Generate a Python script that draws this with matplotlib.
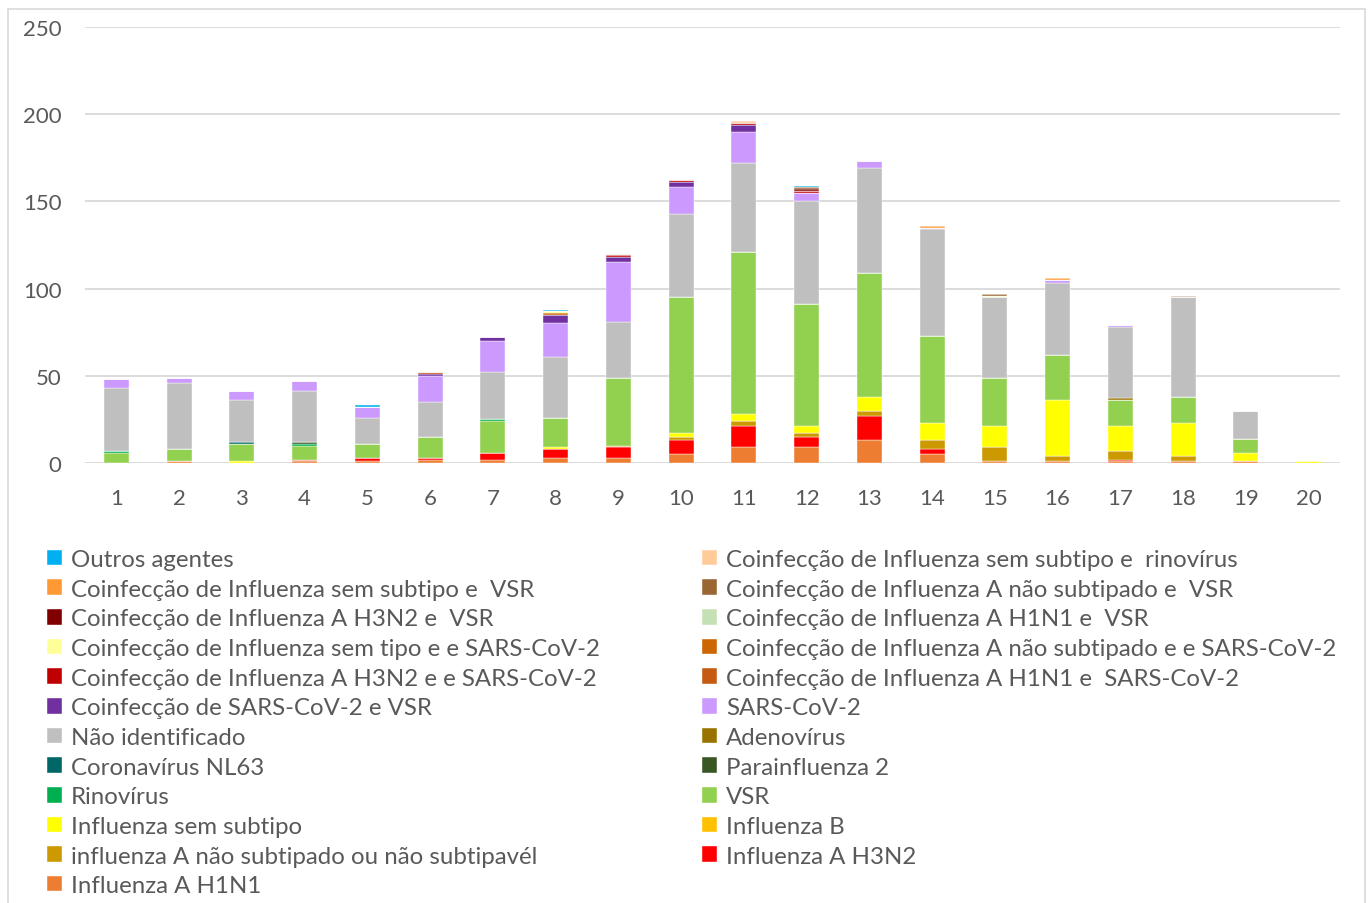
import matplotlib
matplotlib.use('Agg')
import matplotlib.pyplot as plt
from matplotlib.patches import Rectangle
import numpy as np

plt.rcParams['font.family'] = ['Lato', 'DejaVu Sans']

# Semanas epidemiológicas
semanas = [str(i) for i in range(1, 21)]

# Séries (ordem de empilhamento, de baixo para cima)
h1n1 = [0, 1, 0, 1, 1, 2, 2, 3, 3, 5, 9, 9, 13, 5, 1, 1, 1, 1, 1, 0]
h3n2 = [0, 0, 0, 1, 2, 1, 4, 5, 6, 8, 12, 6, 14, 3, 0, 0, 1, 0, 0, 0]
flu_a_nst = [0, 0, 0, 0, 0, 0, 0, 0, 1, 2, 3, 2, 3, 5, 8, 3, 5, 3, 0, 0]
flu_b = [0, 0, 0, 0, 0, 0, 0, 0, 0, 0, 0, 0, 0, 0, 0, 0, 0, 0, 0, 0]
flu_sem = [0, 0, 1, 0, 0, 0, 0, 1, 0, 2, 4, 4, 8, 10, 12, 32, 14, 19, 5, 1]
vsr = [6, 7, 10, 8, 8, 12, 18, 17, 39, 78, 93, 70, 71, 50, 28, 26, 15, 15, 8, 0]
rino = [1, 0, 0, 1, 0, 0, 1, 0, 0, 0, 0, 0, 0, 0, 0, 0, 0, 0, 0, 0]
para2 = [0, 0, 0, 1, 0, 0, 0, 0, 0, 0, 0, 0, 0, 0, 0, 0, 0, 0, 0, 0]
nl63 = [0, 0, 1, 0, 0, 0, 0, 0, 0, 0, 0, 0, 0, 0, 0, 0, 0, 0, 0, 0]
adeno = [0, 0, 0, 0, 0, 0, 0, 0, 0, 0, 0, 0, 0, 0, 0, 0, 1, 0, 0, 0]
nao_id = [36, 38, 24, 29, 15, 20, 27, 35, 32, 48, 51, 59, 60, 61, 46, 41, 41, 57, 16, 1]
sars = [5, 3, 5, 6, 6, 15, 18, 19, 34, 15, 18, 5, 4, 1, 0, 2, 1, 0, 0, 0]
co_sars_vsr = [0, 0, 0, 0, 0, 1, 2, 5, 3, 3, 4, 0, 0, 0, 0, 0, 0, 0, 0, 0]
co_h1n1_sars = [0, 0, 0, 0, 0, 1, 0, 0, 0, 0, 0, 0, 0, 0, 0, 0, 0, 0, 0, 0]
co_h3n2_sars = [0, 0, 0, 0, 0, 0, 0, 0, 1, 1, 1, 1, 0, 0, 0, 0, 0, 0, 0, 0]
co_anst_sars = [0, 0, 0, 0, 0, 0, 0, 1, 0, 0, 0, 0, 0, 0, 0, 0, 0, 0, 0, 0]
co_sem_sars = [0, 0, 0, 0, 0, 0, 0, 1, 0, 0, 0, 0, 0, 0, 1, 0, 0, 0, 0, 0]
co_h1n1_vsr = [0, 0, 0, 0, 0, 0, 0, 0, 1, 0, 0, 0, 0, 0, 0, 0, 0, 0, 0, 0]
co_h3n2_vsr = [0, 0, 0, 0, 0, 0, 0, 0, 0, 0, 0, 1, 0, 0, 0, 0, 0, 0, 0, 0]
co_anst_vsr = [0, 0, 0, 0, 0, 0, 0, 0, 0, 0, 0, 1, 0, 0, 1, 0, 0, 1, 0, 0]
co_sem_vsr = [0, 0, 0, 0, 0, 0, 0, 0, 0, 0, 0, 0, 0, 1, 0, 1, 0, 0, 0, 0]
co_sem_rino = [0, 0, 0, 0, 0, 0, 0, 0, 0, 0, 1, 0, 0, 0, 0, 0, 0, 0, 0, 0]
outros = [0, 0, 0, 0, 1, 0, 0, 1, 0, 0, 0, 1, 0, 0, 0, 0, 0, 0, 0, 0]

series = [
    ('Influenza A H1N1', h1n1, '#ED7D31'),
    ('Influenza A H3N2', h3n2, '#FF0000'),
    ('influenza A não subtipado ou não subtipavél', flu_a_nst, '#CC9900'),
    ('Influenza B', flu_b, '#FFC000'),
    ('Influenza sem subtipo', flu_sem, '#FFFF00'),
    ('VSR', vsr, '#92D050'),
    ('Rinovírus', rino, '#00B050'),
    ('Parainfluenza 2', para2, '#385723'),
    ('Coronavírus NL63', nl63, '#006666'),
    ('Adenovírus', adeno, '#997300'),
    ('Não identificado', nao_id, '#BFBFBF'),
    ('SARS-CoV-2', sars, '#CC99FF'),
    ('Coinfecção de SARS-CoV-2 e VSR', co_sars_vsr, '#7030A0'),
    ('Coinfecção de Influenza A H1N1 e  SARS-CoV-2', co_h1n1_sars, '#C55A11'),
    ('Coinfecção de Influenza A H3N2 e e SARS-CoV-2', co_h3n2_sars, '#C00000'),
    ('Coinfecção de Influenza A não subtipado e e SARS-CoV-2', co_anst_sars, '#CC6600'),
    ('Coinfecção de Influenza sem tipo e e SARS-CoV-2', co_sem_sars, '#FFFF99'),
    ('Coinfecção de Influenza A H1N1 e  VSR', co_h1n1_vsr, '#C5E0B4'),
    ('Coinfecção de Influenza A H3N2 e  VSR', co_h3n2_vsr, '#800000'),
    ('Coinfecção de Influenza A não subtipado e  VSR', co_anst_vsr, '#996633'),
    ('Coinfecção de Influenza sem subtipo e  VSR', co_sem_vsr, '#FF9933'),
    ('Coinfecção de Influenza sem subtipo e  rinovírus', co_sem_rino, '#FFCC99'),
    ('Outros agentes', outros, '#00B0F0'),
]

W, H = 1370, 904
fig = plt.figure(figsize=(W / 100, H / 100), dpi=100)
ax = fig.add_axes([85 / W, 1 - 464 / H, (1340 - 85) / W, (464 - 28) / H])

x = np.arange(1, len(semanas) + 1)
base = np.zeros(len(semanas))
handles = {}
for nome, vals, cor in series:
    b = ax.bar(x, vals, width=0.4, bottom=base, color=cor,
               edgecolor='white', linewidth=0.3, zorder=3)
    handles[nome] = b
    base += np.array(vals)

ax.set_xlim(0.5, 20.5)
ax.set_ylim(0, 250)
ax.set_yticks(range(0, 251, 50))
ax.set_xticks(x)
ax.set_xticklabels(semanas)
ax.yaxis.grid(True, color='#D9D9D9', linewidth=1.3, zorder=0)
ax.set_axisbelow(True)
for s in ax.spines.values():
    s.set_visible(False)
ax.tick_params(length=0, labelsize=16, labelcolor='#595959')
ax.tick_params(axis='y', pad=17)
ax.tick_params(axis='x', pad=18)

# Ordem da legenda (linha por linha, duas colunas)
ordem = [
    'Outros agentes', 'Coinfecção de Influenza sem subtipo e  rinovírus',
    'Coinfecção de Influenza sem subtipo e  VSR', 'Coinfecção de Influenza A não subtipado e  VSR',
    'Coinfecção de Influenza A H3N2 e  VSR', 'Coinfecção de Influenza A H1N1 e  VSR',
    'Coinfecção de Influenza sem tipo e e SARS-CoV-2', 'Coinfecção de Influenza A não subtipado e e SARS-CoV-2',
    'Coinfecção de Influenza A H3N2 e e SARS-CoV-2', 'Coinfecção de Influenza A H1N1 e  SARS-CoV-2',
    'Coinfecção de SARS-CoV-2 e VSR', 'SARS-CoV-2',
    'Não identificado', 'Adenovírus',
    'Coronavírus NL63', 'Parainfluenza 2',
    'Rinovírus', 'VSR',
    'Influenza sem subtipo', 'Influenza B',
    'influenza A não subtipado ou não subtipavél', 'Influenza A H3N2',
    'Influenza A H1N1',
]
col1 = ordem[0::2]
col2 = ordem[1::2]

leg_kw = dict(frameon=False, fontsize=17.3, labelcolor='#595959',
              handlelength=0.62, handleheight=0.62, handletextpad=0.38,
              labelspacing=0.36, borderpad=0, borderaxespad=0)
leg1 = fig.legend([handles[n] for n in col1], col1, loc='upper left',
                  bbox_to_anchor=(47 / W, 1 - 550 / H), **leg_kw)
leg2 = fig.legend([handles[n] for n in col2], col2, loc='upper left',
                  bbox_to_anchor=(702 / W, 1 - 550 / H), **leg_kw)

# Moldura do gráfico
fig.patches.append(Rectangle((8 / W, -0.01), (1365 - 8) / W, 1 - 10 / H + 0.01,
                             transform=fig.transFigure, fill=False,
                             edgecolor='#D9D9D9', linewidth=1.2))

fig.savefig('out.png', dpi=100, facecolor='white')
